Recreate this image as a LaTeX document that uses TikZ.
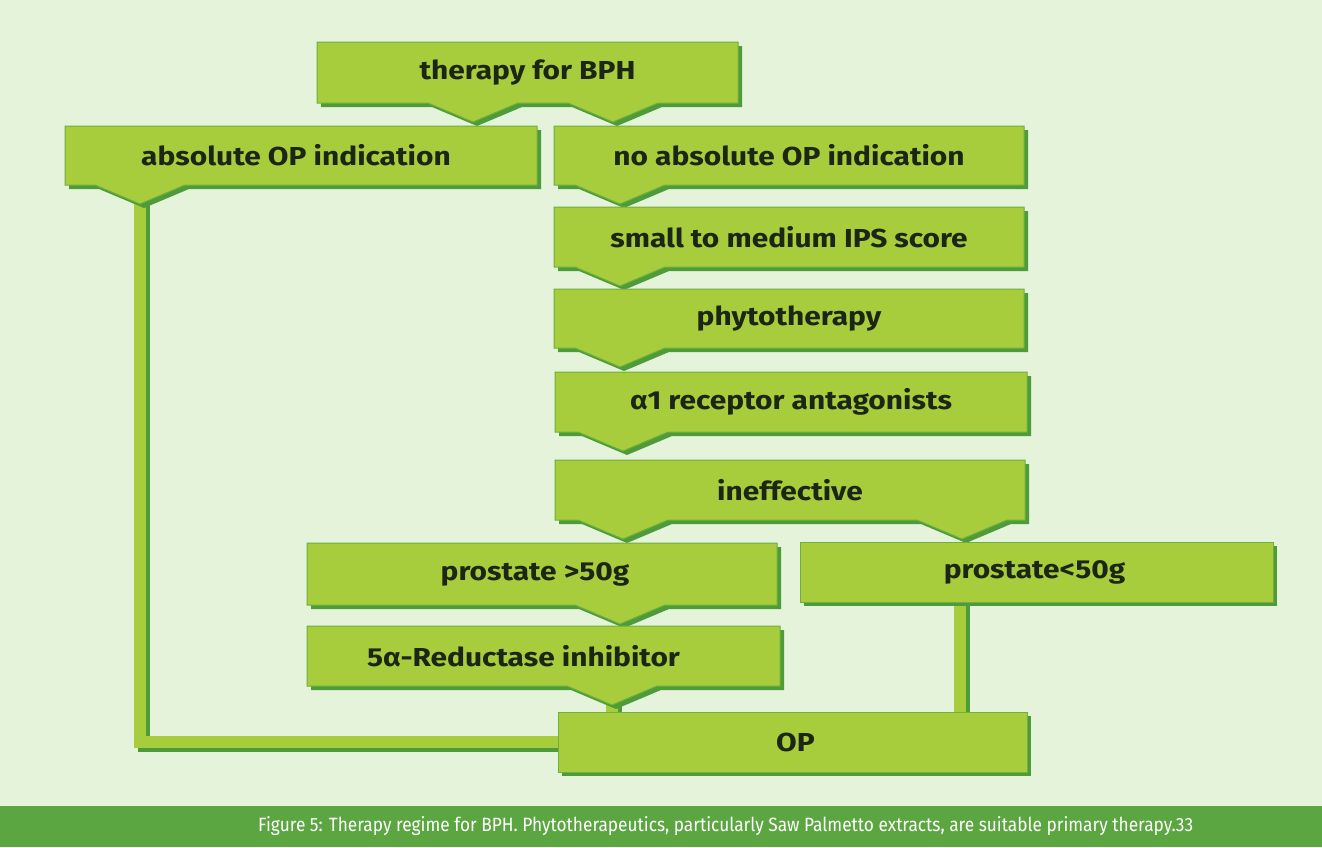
\documentclass[tikz,border=0pt]{standalone}
\usepackage{fontspec}
\usepackage{graphicx}
\setmainfont{Fira Sans}
\newfontfamily\boxfont{Fira Sans}[FakeStretch=1.15]
\usetikzlibrary{calc}
\pgfdeclarelayer{bgfill}
\pgfdeclarelayer{conn}
\pgfsetlayers{bgfill,conn,main}
\definecolor{bg}{HTML}{E5F3DB}
\definecolor{boxfill}{HTML}{A8CD3C}
\definecolor{shadowg}{HTML}{4E9B3A}
\definecolor{edgeg}{HTML}{6FAE3F}
\definecolor{capbar}{HTML}{5CA642}
\definecolor{txt}{HTML}{1C2614}
\tikzset{
  lbl/.style={inner sep=0pt, font=\boxfont\fontsize{26}{26}\selectfont\bfseries, text=txt},
  connshadow/.style={line width=12pt, draw=shadowg, transform canvas={xshift=4pt,yshift=-4pt}},
  connfill/.style={line width=12pt, draw=boxfill},
}
% notched shape path: style, x1,y1,x2,y2, notch x list (descending)
\newcommand\gpath[6]{\path[#1] (#2,#3) -- (#4,#3) -- (#4,#5)
  \foreach \n in {#6}{ -- ({\n+45},#5) -- (\n,{#5+19}) -- ({\n-45},#5)} -- (#2,#5) -- cycle;}
\newcommand\gpathplain[5]{\path[#1] (#2,#3) -- (#4,#3) -- (#4,#5) -- (#2,#5) -- cycle;}
\newcommand\gnode[6]{%
  \pgfmathsetmacro\bw{#4-#2}\pgfmathsetmacro\bh{#5-#3}%
  \node[lbl,minimum width=\bw pt,minimum height=\bh pt] (#1) at ({(#2+#4)/2},{(#3+#5)/2}) {#6};}
\newcommand\gbox[7]{%
  \gpath{fill=shadowg,shift={(4,4)}}{#2}{#3}{#4}{#5}{#6}%
  \gpath{fill=boxfill,draw=edgeg,line width=1pt}{#2}{#3}{#4}{#5}{#6}%
  \gnode{#1}{#2}{#3}{#4}{#5}{#7}}
\newcommand\gboxplain[6]{%
  \gpathplain{fill=shadowg,shift={(4,4)}}{#2}{#3}{#4}{#5}%
  \gpathplain{fill=boxfill,draw=edgeg,line width=1pt}{#2}{#3}{#4}{#5}%
  \gnode{#1}{#2}{#3}{#4}{#5}{#6}}
\begin{document}
\begin{tikzpicture}[x=1pt,y=-1pt]
\useasboundingbox (0,0) rectangle (1322,847);
\begin{pgfonlayer}{bgfill}
  \fill[bg] (0,0) rectangle (1322,847);
  \fill[capbar] (0,806) rectangle (1322,847);
\end{pgfonlayer}
\gbox{therapy}{317}{42}{738}{103}{613,473}{therapy for BPH}
\gbox{absolute}{65}{126}{537}{185}{140}{\hspace*{-10pt}absolute OP indication}
\gbox{noabs}{554}{126}{1024}{185}{620}{no absolute OP indication}
\gbox{ips}{554}{207}{1024}{267}{620}{small to medium IPS score}
\gbox{phyto}{554}{289}{1024}{348}{620}{phytotherapy}
\gbox{alpha}{555}{372}{1027}{432}{623}{α1 receptor antagonists}
\gbox{ineff}{555}{460}{1025}{520}{962,623}{ineffective}
\gbox{pbig}{307}{543}{777}{605}{620}{\hspace*{-14pt}prostate >50g}
\gboxplain{psmall}{800}{542}{1273}{602}{\hspace*{-4pt}prostate<50g}
\gbox{red}{307}{626}{780}{686}{612}{\hspace*{-40pt}5α-Reductase inhibitor}
\gboxplain{op}{558}{712}{1027}{772}{\hspace*{6pt}OP}
\coordinate (abstip) at (140,190);
\coordinate (redtip) at (612,695);
\coordinate (psc) at (960,600);
\begin{pgfonlayer}{conn}
  \draw[connshadow] (abstip) |- (op.west);
  \draw[connshadow] (redtip) -- (redtip |- op.north);
  \draw[connshadow] (psc) -- (psc |- op.north);
  \draw[connfill] (abstip) |- (op.west);
  \draw[connfill] (redtip) -- (redtip |- op.north);
  \draw[connfill] (psc) -- (psc |- op.north);
\end{pgfonlayer}
\node[anchor=west, text=white, inner sep=0pt] (cap) at (258,826)
  {\resizebox{935pt}{15pt}{\fontsize{19}{19}\selectfont Figure 5: Therapy regime for BPH. Phytotherapeutics, particularly Saw Palmetto extracts, are suitable primary therapy.33}};
\end{tikzpicture}
\end{document}
